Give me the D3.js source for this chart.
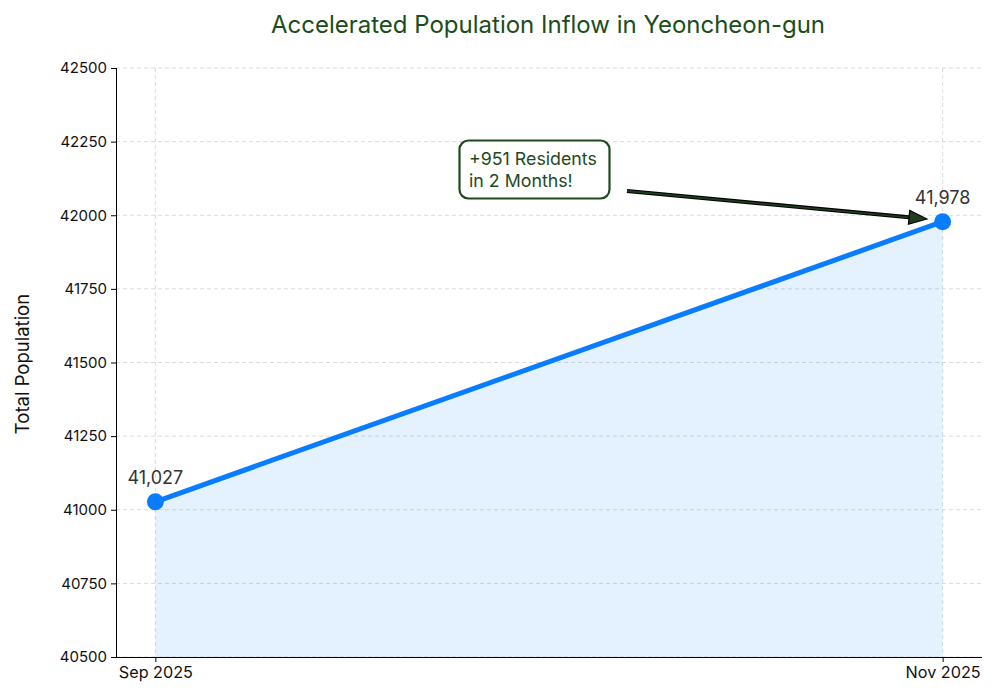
<!DOCTYPE html>
<html><head><meta charset="utf-8">
<script src="https://cdn.jsdelivr.net/npm/d3@7"></script>
<style>body{margin:0;background:#fff;font-family:Inter,"Open Sans",sans-serif;}</style>
</head><body><svg id="c" width="1000" height="700"></svg>
<script>
const categories = ["Sep 2025", "Nov 2025"];
const population = [41027, 41978];
const yTicks = [40500, 40750, 41000, 41250, 41500, 41750, 42000, 42250, 42500];
const annotationLines = ["+951 Residents", "in 2 Months!"];

const svg = d3.select("#c");
const m = {l:116, r:982, t:68, b:657};
const x = d3.scaleLinear().domain([-0.05, 1.05]).range([m.l, m.r]);
const y = d3.scaleLinear().domain([40500, 42500]).range([m.b, m.t]);
const font = "Inter, 'Open Sans', sans-serif";

// grid
svg.append("g").selectAll("line").data(yTicks).join("line")
  .attr("x1", m.l).attr("x2", m.r).attr("y1", d=>y(d)).attr("y2", d=>y(d))
  .attr("stroke", "#d0d0d0").attr("stroke-dasharray", "4,3").attr("stroke-width", 0.8);
svg.append("g").selectAll("line").data(categories).join("line")
  .attr("x1", (d,i)=>x(i)).attr("x2", (d,i)=>x(i)).attr("y1", m.t).attr("y2", m.b)
  .attr("stroke", "#d0d0d0").attr("stroke-dasharray", "4,3").attr("stroke-width", 0.8);

// area
const data = population.map((v,i)=>({i, v}));
svg.append("path").datum(data)
  .attr("d", d3.area().x(d=>x(d.i)).y0(y(40500)).y1(d=>y(d.v)))
  .attr("fill", "#0a7cff").attr("fill-opacity", 0.11);

// axes
const yAxis = svg.append("g").attr("transform", `translate(${m.l},0)`)
  .call(d3.axisLeft(y).tickValues(yTicks).tickFormat(d3.format("d")).tickSize(5).tickPadding(4));
const xAxis = svg.append("g").attr("transform", `translate(0,${m.b})`)
  .call(d3.axisBottom(x).tickValues([0,1]).tickFormat(i=>categories[i]).tickSize(5).tickPadding(4));
[yAxis, xAxis].forEach(g=>{
  g.select(".domain").attr("stroke", "#000").attr("stroke-width", 1);
  g.selectAll(".tick line").attr("stroke", "#000");
  g.selectAll("text").attr("font-family", font).attr("fill", "#111");
});
yAxis.selectAll("text").attr("font-size", 15);
xAxis.selectAll("text").attr("font-size", 16.2);
xAxis.select(".domain").attr("d", `M${m.l},0.5H${m.r}`);
yAxis.select(".domain").attr("d", `M0.5,${m.b}V${m.t}`);

// line
svg.append("path").datum(data)
  .attr("d", d3.line().x(d=>x(d.i)).y(d=>y(d.v)))
  .attr("fill", "none").attr("stroke", "#0a7cff").attr("stroke-width", 5);
svg.append("g").selectAll("circle").data(data).join("circle")
  .attr("cx", d=>x(d.i)).attr("cy", d=>y(d.v)).attr("r", 8.5).attr("fill", "#0a7cff");

// value labels
svg.append("g").selectAll("text").data(data).join("text")
  .attr("x", d=>x(d.i)).attr("y", d=>y(d.v)-18).attr("text-anchor", "middle")
  .attr("font-family", font).attr("font-size", 18).attr("fill", "#333")
  .text(d=>d3.format(",")(d.v));

// title
svg.append("text").attr("x", 548).attr("y", 33).attr("text-anchor", "middle")
  .attr("font-family", font).attr("font-size", 24).attr("fill", "#1b4d1b")
  .text("Accelerated Population Inflow in Yeoncheon-gun");

// y label
svg.append("text").attr("transform", "translate(29,364) rotate(-90)").attr("text-anchor", "middle")
  .attr("font-family", font).attr("font-size", 18.5).attr("fill", "#111").text("Total Population");

// annotation arrow
const x1 = 627, y1 = 191, x2 = 927, y2 = 219;
const ang = Math.atan2(y2-y1, x2-x1);
const hl = 18, hw = 7;
const bx = x2 - hl*Math.cos(ang), by = y2 - hl*Math.sin(ang);
const px = -Math.sin(ang)*hw, py = Math.cos(ang)*hw;
svg.append("line").attr("x1", x1).attr("y1", y1).attr("x2", bx).attr("y2", by)
  .attr("stroke", "#000").attr("stroke-width", 4);
svg.append("line").attr("x1", x1).attr("y1", y1).attr("x2", bx).attr("y2", by)
  .attr("stroke", "#1e3d1e").attr("stroke-width", 1.8);
svg.append("path").attr("d", `M${x2},${y2}L${bx+px},${by+py}L${bx-px},${by-py}Z`)
  .attr("fill", "#1e3d1e").attr("stroke", "#000").attr("stroke-width", 1.2);

// annotation box
svg.append("rect").attr("x", 459.5).attr("y", 140.5).attr("width", 150).attr("height", 58).attr("rx", 9)
  .attr("fill", "#fff").attr("stroke", "#1e4a1e").attr("stroke-width", 2.2);
svg.append("text").attr("font-family", font).attr("font-size", 17.8).attr("fill", "#1e4a1e")
  .selectAll("tspan").data(annotationLines).join("tspan")
  .attr("x", 469).attr("y", (d,i)=>165+i*22).text(d=>d);
</script></body></html>
